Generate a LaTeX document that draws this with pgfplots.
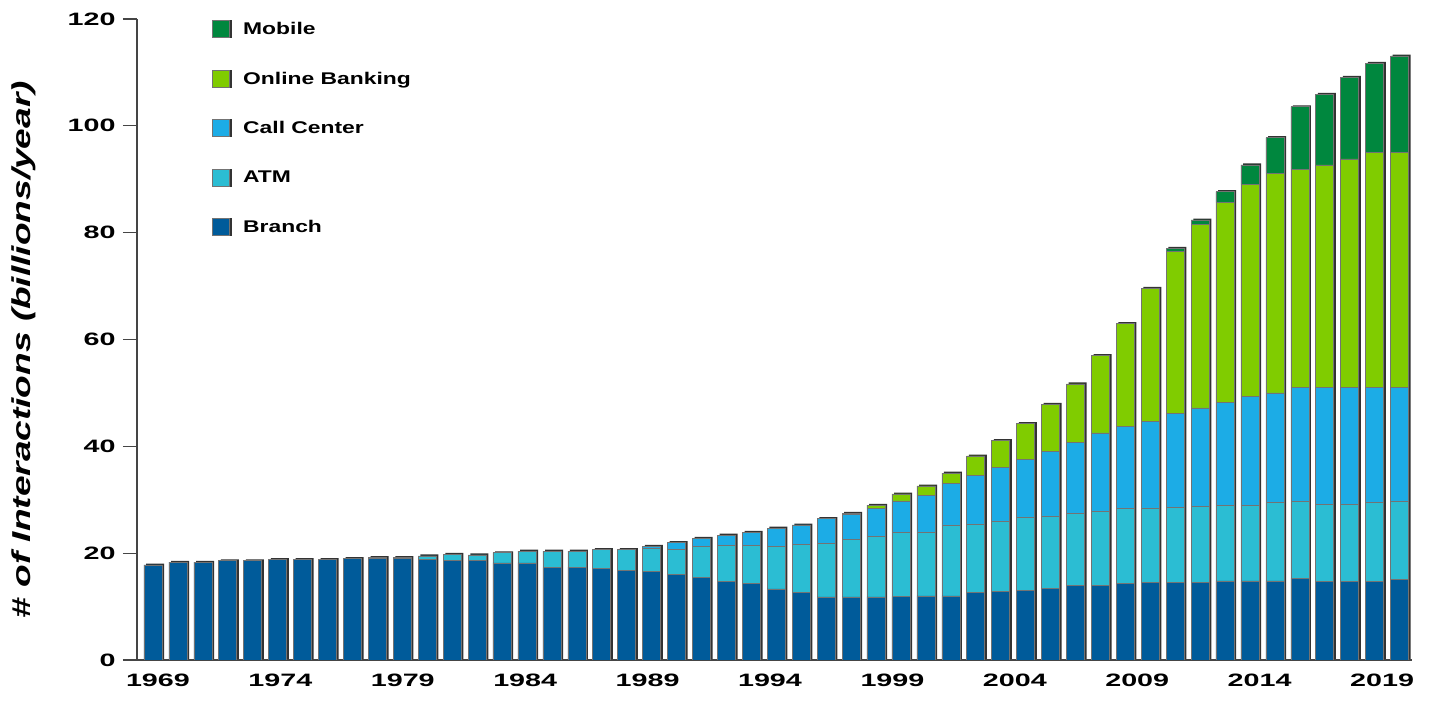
\documentclass[border=0pt]{standalone}
\usepackage{pgfplots}
\pgfplotsset{compat=1.18}
\usepackage{pgfplotstable}
\usepackage{graphicx}
\usepackage{fontspec}
\setmainfont{Liberation Sans}

\definecolor{cBranch}{HTML}{005B9A}
\definecolor{cATM}{HTML}{2BBDD3}
\definecolor{cCall}{HTML}{1CACE6}
\definecolor{cOnline}{HTML}{80CC00}
\definecolor{cMobile}{HTML}{00873E}
\definecolor{axisgray}{HTML}{454545}

% wide bold lettering
\newcommand{\wtick}[1]{\scalebox{1.6}[1]{#1}}
\newcommand{\wleg}[1]{\scalebox{1.35}[1]{#1}}

% interactions per channel, billions per year
\pgfplotstableread{
idx year branch atm call online mobile
0 1969 17.8 0 0 0 0
1 1970 18.3 0 0 0 0
2 1971 18.3 0 0 0 0
3 1972 18.6 0 0 0 0
4 1973 18.6 0 0 0 0
5 1974 18.8 0 0 0 0
6 1975 18.8 0 0 0 0
7 1976 18.8 0 0 0 0
8 1977 19.0 0 0 0 0
9 1978 19.0 0.2 0 0 0
10 1979 19.0 0.2 0 0 0
11 1980 18.9 0.6 0 0 0
12 1981 18.7 1.1 0 0 0
13 1982 18.6 1.1 0 0 0
14 1983 18.2 1.9 0 0 0
15 1984 18.2 2.2 0 0 0
16 1985 17.3 3.1 0 0 0
17 1986 17.4 3.0 0 0 0
18 1987 17.1 3.6 0 0 0
19 1988 16.8 3.9 0 0 0
20 1989 16.6 4.3 0.4 0 0
21 1990 16.0 4.7 1.3 0 0
22 1991 15.5 5.8 1.5 0 0
23 1992 14.7 6.7 2.0 0 0
24 1993 14.3 7.2 2.4 0 0
25 1994 13.3 8.0 3.4 0 0
26 1995 12.7 8.9 3.7 0 0
27 1996 11.8 10.0 4.7 0 0
28 1997 11.8 10.8 4.6 0.3 0
29 1998 11.8 11.3 5.3 0.6 0
30 1999 11.9 12.0 5.9 1.3 0
31 2000 12.0 12.0 6.8 1.8 0
32 2001 12.0 13.3 7.7 2.0 0
33 2002 12.7 12.8 9.1 3.6 0
34 2003 12.9 13.1 10.0 5.1 0
35 2004 13.1 13.7 10.8 6.7 0
36 2005 13.4 13.6 12.0 8.9 0
37 2006 14.0 13.5 13.2 11.0 0
38 2007 14.0 13.8 14.7 14.5 0
39 2008 14.4 14.0 15.3 19.3 0
40 2009 14.5 14.0 16.2 24.9 0
41 2010 14.5 14.1 17.5 30.4 0.6
42 2011 14.5 14.3 18.4 34.3 0.9
43 2012 14.8 14.1 19.3 37.4 2.1
44 2013 14.8 14.2 20.3 39.7 3.7
45 2014 14.8 14.7 20.5 41.1 6.7
46 2015 15.3 14.4 21.4 40.7 11.8
47 2016 14.7 14.4 22.0 41.6 13.2
48 2017 14.7 14.4 22.0 42.7 15.3
49 2018 14.7 14.8 21.6 43.9 16.7
50 2019 15.1 14.7 21.3 43.9 18.1
}\interactions

\pgfplotsset{
  frame/.style={
    at={(137bp,44bp)}, anchor=south west,
    scale only axis, width=1275bp, height=641bp,
    xmin=-0.64, xmax=50.5, ymin=0, ymax=120,
  },
}

\begin{document}
\begin{tikzpicture}
\path[use as bounding box] (0,0) rectangle (1431bp,704bp);
% dark edge behind each stack, for the raised look of the bars
\begin{axis}[frame, hide axis, ybar, bar width=18bp, bar shift=2.2bp]
\addplot[fill=black!80, draw=none] table[x=idx,
  y expr=\thisrow{branch}+\thisrow{atm}+\thisrow{call}+\thisrow{online}+\thisrow{mobile}+0.25] {\interactions};
\end{axis}
\begin{axis}[
  frame,
  ybar stacked, bar width=18bp,
  axis lines*=left,
  axis line style={axisgray, line width=1.3bp},
  tick align=outside,
  xtick={0.2,5.11,10.02,14.93,19.84,24.75,29.66,34.57,39.48,44.39,49.3},
  xticklabels={\wtick{1969},\wtick{1974},\wtick{1979},\wtick{1984},\wtick{1989},\wtick{1994},\wtick{1999},\wtick{2004},\wtick{2009},\wtick{2014},\wtick{2019}},
  x tick style={draw=none},
  minor xtick={-0.5,0.5,...,50.5},
  minor x tick style={axisgray, line width=1.3bp},
  minor tick length=8bp,
  ytick={0,20,...,120},
  yticklabels={\wtick{0},\wtick{20},\wtick{40},\wtick{60},\wtick{80},\wtick{100},\wtick{120}},
  y tick style={axisgray, line width=1.3bp},
  major tick length=14bp,
  tick label style={font=\fontsize{18}{18}\selectfont\bfseries, text=black},
  xticklabel style={yshift=4bp},
  yticklabel style={xshift=-4bp},
  ylabel={\scalebox{1.43}[1]{\fontsize{26}{26}\selectfont\bfseries\itshape \# of Interactions (billions/year)}},
  ylabel style={at={(axis description cs:-0.089,0.484)}, anchor=center},
  legend style={at={(axis description cs:0.0588,0.998)}, anchor=north west,
    draw=none, fill=none, inner sep=0pt, row sep=32bp,
    font=\fontsize{17}{17}\selectfont\bfseries,
    nodes={inner sep=1bp}},
  legend cell align=left,
  legend image code/.code={\fill[black!80] (1.5bp,-8.5bp) rectangle (18.5bp,8.5bp);
    \fill[#1] (0bp,-8.5bp) rectangle (17bp,8.5bp);},
  /tikz/every odd column/.append style={column sep=11bp},
  reverse legend,
  every axis plot/.append style={draw=black!55, line width=0.5bp},
]
\addplot[fill=cBranch] table[x=idx, y=branch] {\interactions};
\addlegendentry{\wleg{Branch}}
\addplot[fill=cATM] table[x=idx, y=atm] {\interactions};
\addlegendentry{\wleg{ATM}}
\addplot[fill=cCall] table[x=idx, y=call] {\interactions};
\addlegendentry{\wleg{Call Center}}
\addplot[fill=cOnline] table[x=idx, y=online] {\interactions};
\addlegendentry{\wleg{Online Banking}}
\addplot[fill=cMobile] table[x=idx, y=mobile] {\interactions};
\addlegendentry{\wleg{Mobile}}
\end{axis}
\end{tikzpicture}
\end{document}
